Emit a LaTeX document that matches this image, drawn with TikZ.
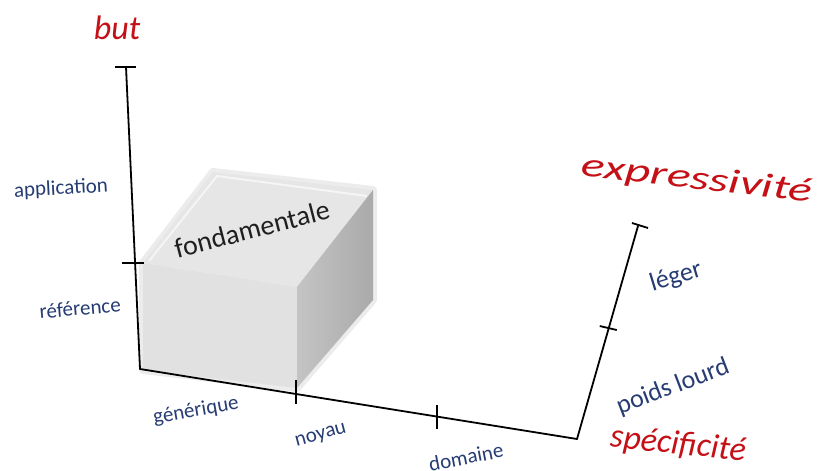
\documentclass[tikz,border=0pt]{standalone}
\usepackage{fontspec}
\setmainfont{Carlito}
\usetikzlibrary{calc}
\definecolor{axred}{RGB}{196,16,22}
\definecolor{axblue}{RGB}{38,60,115}
\definecolor{halo}{RGB}{236,236,236}
\definecolor{frontc}{RGB}{225,225,225}
\definecolor{topc}{RGB}{230,230,230}
\definecolor{sidel}{RGB}{196,196,196}
\definecolor{sided}{RGB}{170,170,170}
\begin{document}
\begin{tikzpicture}[x=1pt,y=-1pt,
  axisline/.style={line width=1.8pt,black,line cap=round},
  tickline/.style={line width=1.8pt,black},
  lab/.style={text=axblue,font=\fontsize{21}{23}\selectfont,inner sep=0pt},
  labbig/.style={text=axblue,font=\fontsize{26}{28}\selectfont,inner sep=0pt},
  ttl/.style={text=axred,font=\fontsize{34}{36}\selectfont\itshape,inner sep=0pt}]
\useasboundingbox (0,0) rectangle (819,471);

% box corners
\coordinate (b1) at (143,263);
\coordinate (b2) at (297,287);
\coordinate (b3) at (297,388);
\coordinate (b4) at (143,370);
\coordinate (b5) at (213,172);
\coordinate (b6) at (373,190);
\coordinate (b7) at (373,300);

% halo
\filldraw[halo,line width=8pt,line join=round] (b4)--(b1)--(b5)--(b6)--(b7)--(b3)--cycle;
% faces
\fill[frontc] (b1)--(b2)--(b3)--(b4)--cycle;
\fill[topc] (b1)--(b5)--(b6)--(b2)--cycle;
\draw[white!60!topc,line width=2pt,line join=round] ($(b1)+(6,-2)$)--($(b5)+(4,4)$)--($(b6)+(-6,6)$);
\shade[left color=sidel,right color=sided] (b2)--(b6)--(b7)--(b3)--cycle;
\node[text=black!88,font=\fontsize{28}{30}\selectfont,rotate=14.5,inner sep=0pt] (fond) at (252,229) {fondamentale};

% vertical axis
\coordinate (vb) at (140,369);
\coordinate (vt) at (126,67);
\coordinate (vm) at ($(vb)!0.351!(vt)$);
\draw[axisline] (vb) -- (vt);
\draw[tickline] ($(vt)+(-11,0)$) -- ($(vt)+(10,0)$);
\draw[tickline] ($(vm)+(-13,0)$) -- ($(vm)+(9,0)$);

% bottom axis
\coordinate (hc) at (577,439);
\coordinate (h1) at ($(vb)!0.357!(hc)$);
\coordinate (h2) at ($(vb)!0.68!(hc)$);
\draw[axisline] (vb) -- (hc);
\draw[tickline] ($(h1)+(0,-14)$) -- ($(h1)+(0,10)$);
\draw[tickline] ($(h2)+(0,-12)$) -- ($(h2)+(0,12)$);

% right axis
\coordinate (rt) at (638,226);
\coordinate (r1) at ($(hc)!0.521!(rt)$);
\draw[axisline] (hc) -- (rt);
\draw[tickline] ($(rt)+(-6,-3)$) -- ($(rt)+(10,2)$);
\draw[tickline] ($(r1)+(-9,-2)$) -- ($(r1)+(8,2)$);

% titles
\node[ttl] (but) at (117,28) {but};
\node[ttl,rotate=-6.5] (expr) at (697,180) {\scalebox{1.45}[1]{expressivité}};
\node[ttl,rotate=-6] (spec) at (678,445) {spécificité};

% labels
\node[lab,rotate=3] (appl) at (61,189) {application};
\node[lab,rotate=5] (ref) at (80,308) {référence};
\node[lab,rotate=10] (gen) at (196,411) {générique};
\node[lab,rotate=15] (noy) at (321,436) {noyau};
\node[lab,rotate=11] (dom) at (466,457) {domaine};
\node[labbig,rotate=17] (leg) at (676,277) {léger};
\node[labbig,rotate=21] (poids) at (673,387) {poids lourd};
\end{tikzpicture}
\end{document}
